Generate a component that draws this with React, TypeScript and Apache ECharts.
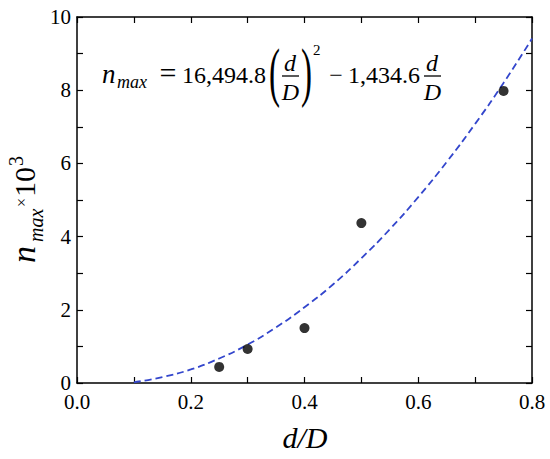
import React, { useEffect, useRef } from "react";
import * as echarts from "echarts";

// Measured points (d/D, n_max ×10^3)
const pointX = [0.25, 0.3, 0.4, 0.5, 0.75];
const pointY = [0.44, 0.93, 1.5, 4.37, 7.98];

// Fitted curve
const curveX = [0.1, 0.15, 0.2, 0.25, 0.3, 0.35, 0.4, 0.45, 0.5, 0.55, 0.6, 0.65, 0.7, 0.75, 0.8];
const curveY = [0.02, 0.16, 0.37, 0.67, 1.05, 1.52, 2.07, 2.69, 3.41, 4.2, 5.08, 6.04, 7.08, 8.2, 9.41];

const xTicks = { min: 0, max: 0.8, interval: 0.2 };
const yTicks = { min: 0, max: 10, interval: 2 };

const SERIF = "Liberation Serif";

function t(text: string, x: number, baseline: number, fs: number, opts: any = {}) {
  return {
    type: "text",
    x,
    y: baseline - 0.34 * fs,
    scaleX: opts.scaleX ?? 1,
    style: {
      text,
      fontSize: fs,
      fontFamily: SERIF,
      fontStyle: opts.italic ? "italic" : "normal",
      fill: "#000",
      align: opts.align ?? "left",
      verticalAlign: "middle",
    },
  };
}

export default function App() {
  const ref = useRef<HTMLDivElement>(null);
  useEffect(() => {
    document.body.style.margin = "0";
    if (!ref.current) return;
    const chart = echarts.init(ref.current, undefined, { renderer: "svg" });
    const axisCommon = {
      type: "value" as const,
      axisLine: { show: true, onZero: false, lineStyle: { color: "#000", width: 1.5 } },
      axisTick: { show: true, inside: true, length: 6, lineStyle: { color: "#000", width: 1.2 } },
      minorTick: { show: true, splitNumber: 2, length: 6, lineStyle: { color: "#000", width: 1.2 } },
      splitLine: { show: false },
      minorSplitLine: { show: false },
    };
    const labelStyle = { color: "#000", fontSize: 21, fontFamily: SERIF };
    const data = pointX.map((x, i) => [x, pointY[i]]);
    const curve = curveX.map((x, i) => [x, curveY[i]]);

    const eq: any[] = [
      t("n", 102, 83, 27, { italic: true }),
      t("max", 117, 88, 18, { italic: true }),
      t("=", 168, 83, 30, { align: "center" }),
      t("16,494.8", 182, 83, 24),
      t("(", 269, 94, 66, { scaleX: 0.5 }),
      t("d", 290, 71, 24, { italic: true, align: "center" }),
      { type: "line", shape: { x1: 282, y1: 76, x2: 299, y2: 76 }, style: { stroke: "#000", lineWidth: 1.3 } },
      t("D", 290.5, 100, 24, { italic: true, align: "center" }),
      t(")", 301, 94, 66, { scaleX: 0.5 }),
      t("2", 313, 55, 15),
      t("\u2212", 336, 83, 24, { align: "center" }),
      t("1,434.6", 348, 83, 24),
      t("d", 432, 71, 24, { italic: true, align: "center" }),
      { type: "line", shape: { x1: 424, y1: 76, x2: 441, y2: 76 }, style: { stroke: "#000", lineWidth: 1.3 } },
      t("D", 432.5, 100, 24, { italic: true, align: "center" }),
    ];

    const yTitle = {
      type: "group",
      x: 35,
      y: 263,
      rotation: Math.PI / 2,
      children: [
        t("n", 0, 0, 34, { italic: true }),
        t("max", 21, 8, 20, { italic: true }),
        t("\u00d7", 56, -8, 16),
        t("10", 66, 0, 30),
        t("3", 97, -12, 20),
      ],
    };

    chart.setOption({
      animation: false,
      backgroundColor: "#fff",
      grid: { left: 77, right: 18, top: 17, bottom: 76, containLabel: false, outerBoundsMode: "none" },
      xAxis: [
        {
          ...axisCommon,
          position: "bottom",
          min: xTicks.min,
          max: xTicks.max,
          interval: xTicks.interval,
          axisLabel: { ...labelStyle, margin: 8, formatter: (v: number) => v.toFixed(1) },
        },
        {
          ...axisCommon,
          position: "top",
          min: xTicks.min,
          max: xTicks.max,
          interval: xTicks.interval,
          axisLabel: { show: false },
        },
      ],
      yAxis: [
        {
          ...axisCommon,
          position: "left",
          min: yTicks.min,
          max: yTicks.max,
          interval: yTicks.interval,
          axisLabel: { ...labelStyle, margin: 6 },
        },
        {
          ...axisCommon,
          position: "right",
          min: yTicks.min,
          max: yTicks.max,
          interval: yTicks.interval,
          axisLabel: { show: false },
        },
      ],
      series: [
        {
          type: "line",
          data: curve,
          smooth: true,
          showSymbol: false,
          symbol: "none",
          lineStyle: { color: "#3346cc", width: 1.8, type: [7, 4] },
          z: 2,
        },
        {
          type: "scatter",
          data,
          symbol: "circle",
          symbolSize: 10,
          itemStyle: { color: "#000" },
          z: 3,
        },
      ],
      graphic: [
        ...eq,
        yTitle,
        t("d/D", 305, 448, 30, { italic: true, align: "center" }),
      ],
    });
    return () => chart.dispose();
  }, []);
  return <div ref={ref} style={{ width: 550, height: 459 }} />;
}
